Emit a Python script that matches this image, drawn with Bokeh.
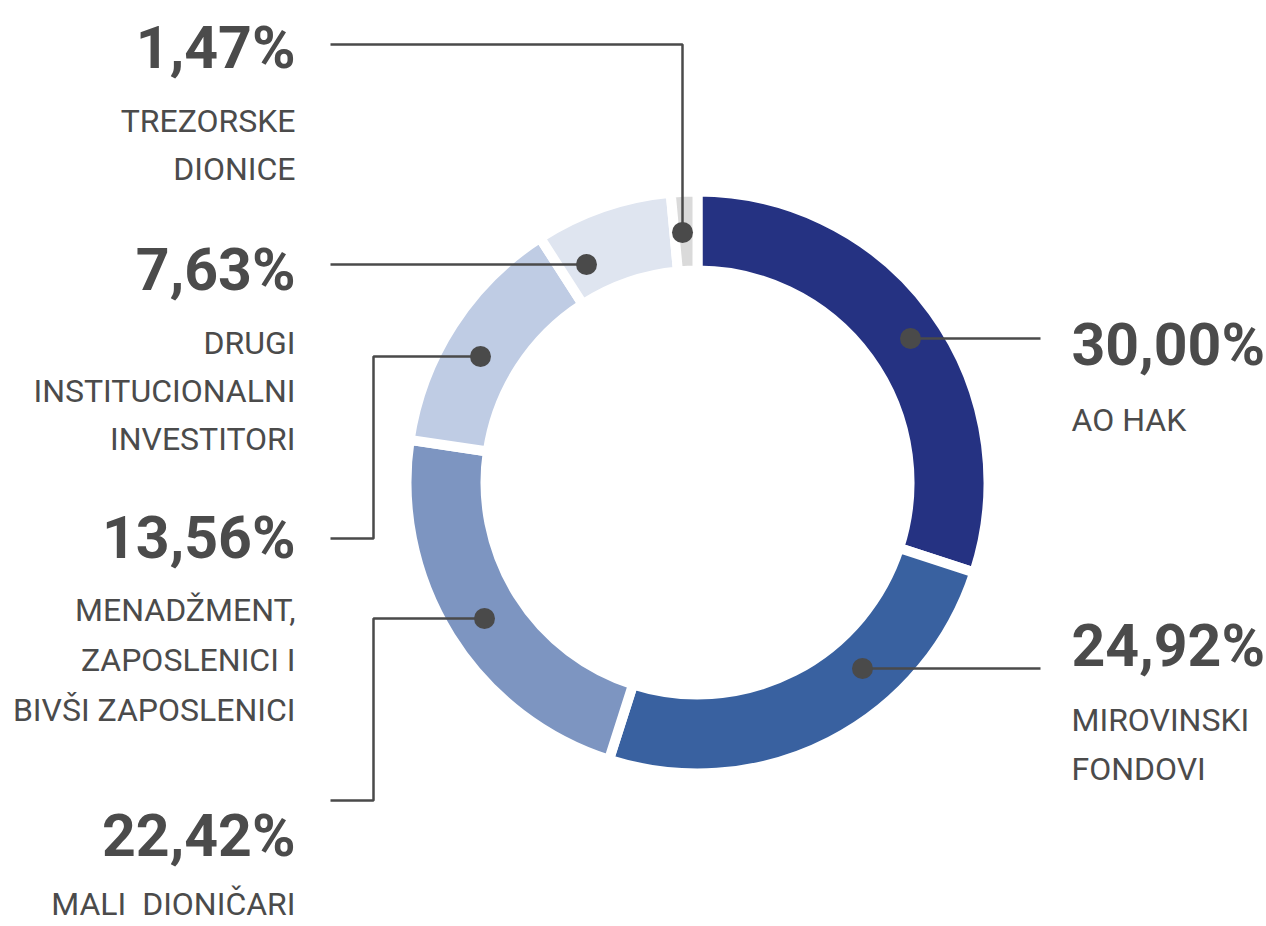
import math
from bokeh.plotting import figure
from bokeh.models import Range1d
from bokeh.core.properties import value
from bokeh.embed import file_html
from bokeh.resources import INLINE

# ---- data ----
categories = ["AO HAK", "MIROVINSKI FONDOVI", "MALI  DIONIČARI",
              "MENADŽMENT, ZAPOSLENICI I BIVŠI ZAPOSLENICI",
              "DRUGI INSTITUCIONALNI INVESTITORI", "TREZORSKE DIONICE"]
shares = [30.00, 24.92, 22.42, 13.56, 7.63, 1.47]
pct_labels = ["30,00%", "24,92%", "22,42%", "13,56%", "7,63%", "1,47%"]
label_lines = [["AO HAK"], ["MIROVINSKI", "FONDOVI"], ["MALI\u00a0 DIONIČARI"],
               ["MENADŽMENT,", "ZAPOSLENICI I", "BIVŠI ZAPOSLENICI"],
               ["DRUGI", "INSTITUCIONALNI", "INVESTITORI"],
               ["TREZORSKE", "DIONICE"]]
colors = ["#253282", "#3961a0", "#7d95c1", "#bfcce4", "#dfe5f0", "#dadada"]

W, H = 1266, 926
FONT = "Roboto"
TXT = "#4b4b4b"
LINE = "#4a4a4a"
PCT_SIZE = 59
SUB_SIZE = 32

def Y(py):
    return H - py

p = figure(width=W, height=H, output_backend="svg", toolbar_location=None,
           x_range=Range1d(0, W), y_range=Range1d(0, H), min_border=0)
p.axis.visible = False
p.grid.visible = False
p.outline_line_color = None
p.background_fill_color = "white"
p.border_fill_color = "white"

cx, cy = 697, Y(482)
total = sum(shares)
starts, ends = [], []
cum = 0.0
for s in shares:
    starts.append(math.pi / 2 - cum / total * 2 * math.pi)
    cum += s
    ends.append(math.pi / 2 - cum / total * 2 * math.pi)

p.annular_wedge(x=[cx] * len(shares), y=[cy] * len(shares),
                inner_radius=212, outer_radius=291,
                start_angle=starts, end_angle=ends, direction="clock",
                fill_color=colors, line_color="white", line_width=10)

# leader lines (pixel layout)
leaders = [
    ([910, 1040], [338, 338]),
    ([862, 1040], [668, 668]),
    ([484, 373, 373, 330], [618, 618, 800, 800]),
    ([480, 373, 373, 330], [356, 356, 538, 538]),
    ([586, 330], [264, 264]),
    ([682, 682, 330], [232, 44, 44]),
]
for xs, ys in leaders:
    p.line(xs, [Y(v) for v in ys], line_color=LINE, line_width=2.5)
    p.scatter([xs[0]], [Y(ys[0])], size=21, fill_color=LINE, line_color=None)

# label positions: (x, align, pct baseline, first sub baseline, spacing)
pos = [
    (1071, "left", 367, 432, 49),
    (1071, "left", 668, 732, 49),
    (295, "right", 858, 916, 49),
    (295, "right", 560, 622, 50),
    (295, "right", 292, 355, 48),
    (295, "right", 70, 133, 48),
]
OFF = 0.39
for (x, al, pb, sb, sp), pl, lines in zip(pos, pct_labels, label_lines):
    p.text([x], [Y(pb - OFF * PCT_SIZE)], text=[pl], text_font=value(FONT),
           text_font_style="bold", text_font_size=f"{PCT_SIZE}px",
           text_color=TXT, text_align=al, text_baseline="alphabetic")
    for i, ln in enumerate(lines):
        p.text([x], [Y(sb + i * sp - OFF * SUB_SIZE)], text=[ln],
               text_font=value(FONT), text_font_size=f"{SUB_SIZE}px",
               text_color=TXT, text_align=al, text_baseline="alphabetic")

open("out.html", "w").write(file_html(p, INLINE))
